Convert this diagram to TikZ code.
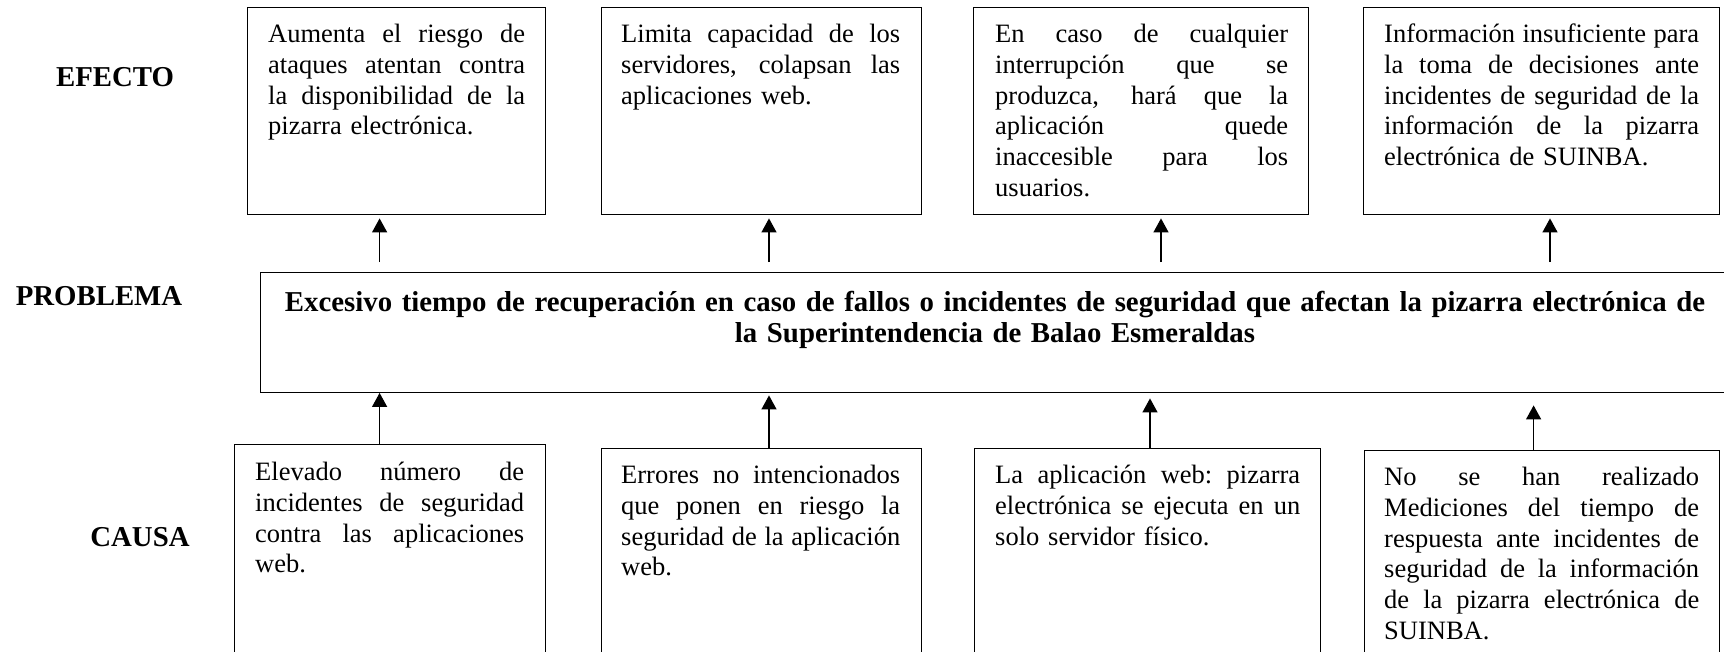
\documentclass[tikz,border=0pt]{standalone}
\usepackage{fontspec}
\setmainfont{Liberation Serif}
\usetikzlibrary{arrows.meta}
\newcommand{\jw}{100pt}
\newcommand{\jl}[1]{\noindent\hbox to\jw{\spaceskip=0.25em plus 1fil\relax\xspaceskip=0.25em plus 1fil\relax #1}}
\newcommand{\fst}{\rule{0pt}{25pt}}
\begin{document}
\begin{tikzpicture}[x=1pt,y=-1pt,
  box/.style={draw, line width=1.4pt, rectangle, inner sep=0pt, anchor=north west},
  txt/.style={anchor=north west, inner sep=0pt, align=left, font=\fontsize{26.5}{30.9}\selectfont},
  lab/.style={anchor=base, inner sep=0pt, font=\fontsize{28.8}{32}\selectfont\bfseries},
  arr/.style={line width=1.3pt, -{Triangle[width=15pt,length=14pt]}}]
\useasboundingbox (0,0) rectangle (1724,651);
\clip (0,0) rectangle (1724,651);

% labels
\node[lab] (lef) at (115,86) {EFECTO};
\node[lab] (lpr) at (99,305) {PROBLEMA};
\node[lab] (lca) at (140,546.7) {CAUSA};

% effect boxes
\node[box, minimum width=298pt, minimum height=207pt] (e1) at (247,7) {};
\node[box, minimum width=320pt, minimum height=207pt] (e2) at (601,7) {};
\node[box, minimum width=335pt, minimum height=207pt] (e3) at (973,7) {};
\node[box, minimum width=356pt, minimum height=207pt] (e4) at (1363,7) {};

\node[txt, text width=257pt] (te1) at (268,17) {\renewcommand{\jw}{257pt}\jl{\fst Aumenta el riesgo de}\\ \jl{ataques atentan contra}\\ \jl{la disponibilidad de la}\\ pizarra electrónica.};
\node[txt, text width=279pt] (te2) at (621,17) {\renewcommand{\jw}{279pt}\jl{\fst Limita capacidad de los}\\ \jl{servidores, colapsan las}\\ aplicaciones web.};
\node[txt, text width=293pt] (te3) at (995,17) {\renewcommand{\jw}{293pt}\jl{\fst En caso de cualquier}\\ \jl{interrupción que se}\\ \jl{produzca, hará que la}\\ \jl{aplicación quede}\\ \jl{inaccesible para los}\\ usuarios.};
\node[txt, text width=315pt] (te4) at (1384,17) {\renewcommand{\jw}{315pt}\jl{\fst Información insuficiente para}\\ \jl{la toma de decisiones ante}\\ \jl{incidentes de seguridad de la}\\ \jl{información de la pizarra}\\ electrónica de SUINBA.};

% problem box
\node[box, minimum width=1480pt, minimum height=119.5pt] (prob) at (260,272) {};
\node[anchor=north, inner sep=0pt, text width=1450pt, align=center, font=\fontsize{28.8}{31.5}\selectfont\bfseries] (ptxt) at (995,286) {\fst Excesivo tiempo de recuperación en caso de fallos o incidentes de seguridad que afectan la pizarra electrónica de\\ la Superintendencia de Balao Esmeraldas};

% cause boxes
\node[box, minimum width=311pt, minimum height=216pt] (c1) at (234,444) {};
\node[box, minimum width=320pt, minimum height=212pt] (c2) at (601,448) {};
\node[box, minimum width=346pt, minimum height=212pt] (c3) at (974,448) {};
\node[box, minimum width=355pt, minimum height=210pt] (c4) at (1364,450) {};

\node[txt, text width=269pt] (tc1) at (255,455) {\renewcommand{\jw}{269pt}\jl{\fst Elevado número de}\\ \jl{incidentes de seguridad}\\ \jl{contra las aplicaciones}\\ web.};
\node[txt, text width=279pt] (tc2) at (621,458) {\renewcommand{\jw}{279pt}\jl{\fst Errores no intencionados}\\ \jl{que ponen en riesgo la}\\ \jl{seguridad de la aplicación}\\ web.};
\node[txt, text width=305pt] (tc3) at (995,458) {\renewcommand{\jw}{305pt}\jl{\fst La aplicación web: pizarra}\\ \jl{electrónica se ejecuta en un}\\ solo servidor físico.};
\node[txt, text width=315pt] (tc4) at (1384,460) {\renewcommand{\jw}{315pt}\jl{\fst No se han realizado}\\ \jl{Mediciones del tiempo de}\\ \jl{respuesta ante incidentes de}\\ \jl{seguridad de la información}\\ \jl{de la pizarra electrónica de}\\ SUINBA.};

% arrow x positions
\coordinate (x1) at (379.6,0);
\coordinate (x2) at (769,0);
\coordinate (x3) at (1161,0);
\coordinate (x4) at (1550,0);
\coordinate (y3) at (1150,0);
\coordinate (y4) at (1533.6,0);

% effect arrows
\draw[arr, shorten <=10pt, shorten >=3pt] (prob.north -| x1) -- (e1.south -| x1);
\draw[arr, shorten <=10pt, shorten >=3pt] (prob.north -| x2) -- (e2.south -| x2);
\draw[arr, shorten <=10pt, shorten >=3pt] (prob.north -| x3) -- (e3.south -| x3);
\draw[arr, shorten <=10pt, shorten >=3pt] (prob.north -| x4) -- (e4.south -| x4);

% cause arrows
\draw[arr] (c1.north -| x1) -- (prob.south -| x1);
\draw[arr, shorten >=2.5pt] (c2.north -| x2) -- (prob.south -| x2);
\draw[arr, shorten >=5.5pt] (c3.north -| y3) -- (prob.south -| y3);
\draw[arr, shorten >=12.5pt] (c4.north -| y4) -- (prob.south -| y4);
\end{tikzpicture}
\end{document}
